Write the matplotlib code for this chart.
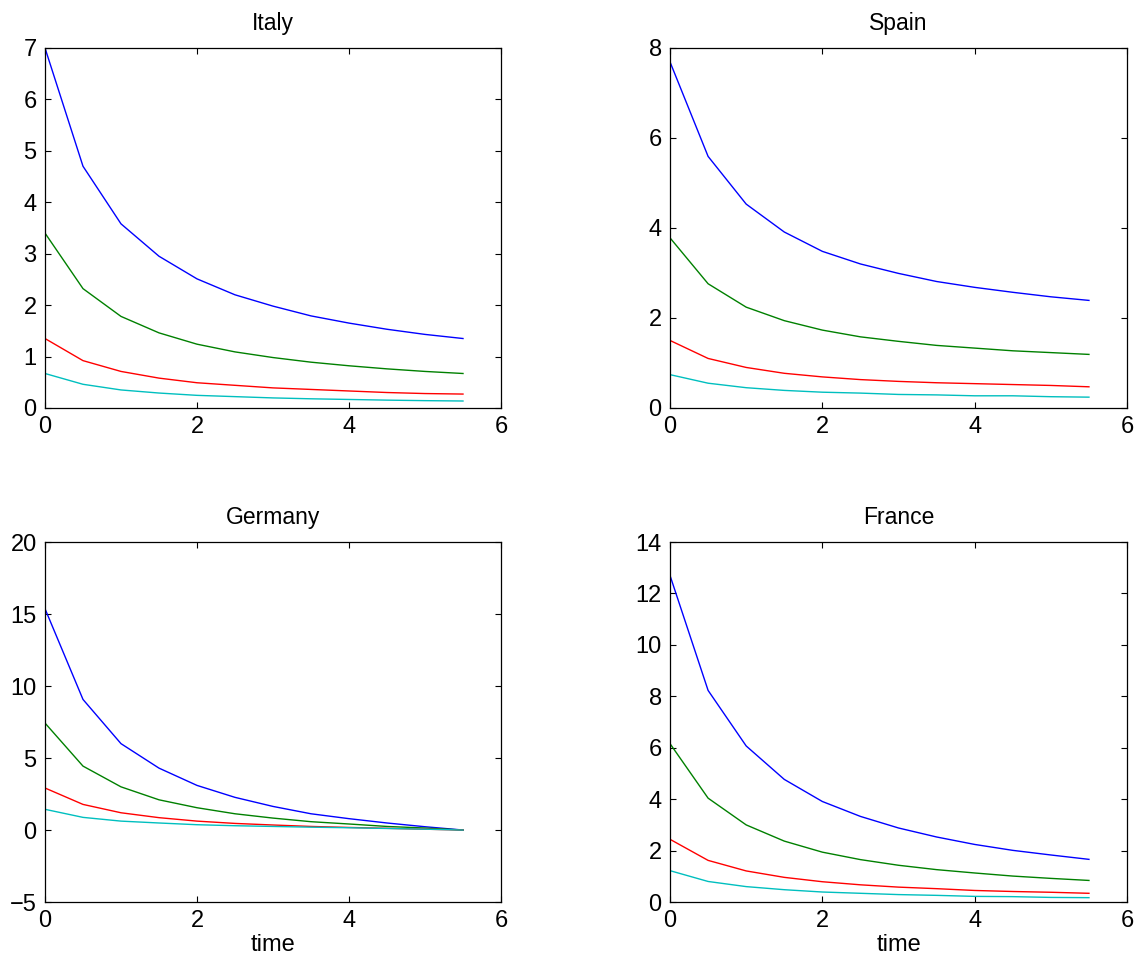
import matplotlib
matplotlib.use('Agg')
import matplotlib.pyplot as plt

plt.rcParams['font.family'] = ['Liberation Sans', 'DejaVu Sans']

time = [0, 0.5, 1, 1.5, 2, 2.5, 3, 3.5, 4, 4.5, 5, 5.5]

italy_1 = [7.0, 4.70, 3.58, 2.95, 2.51, 2.20, 1.98, 1.79, 1.65, 1.53, 1.43, 1.35]
italy_2 = [3.4, 2.32, 1.78, 1.46, 1.24, 1.09, 0.98, 0.89, 0.82, 0.76, 0.71, 0.67]
italy_3 = [1.35, 0.92, 0.71, 0.58, 0.49, 0.44, 0.39, 0.36, 0.33, 0.30, 0.28, 0.27]
italy_4 = [0.67, 0.46, 0.35, 0.29, 0.245, 0.22, 0.195, 0.178, 0.165, 0.152, 0.142, 0.135]

spain_1 = [7.69, 5.59, 4.53, 3.91, 3.48, 3.20, 2.99, 2.81, 2.68, 2.57, 2.47, 2.39]
spain_2 = [3.78, 2.76, 2.24, 1.94, 1.73, 1.58, 1.48, 1.39, 1.33, 1.27, 1.23, 1.19]
spain_3 = [1.50, 1.10, 0.90, 0.77, 0.69, 0.63, 0.59, 0.56, 0.54, 0.52, 0.50, 0.47]
spain_4 = [0.74, 0.55, 0.45, 0.39, 0.35, 0.33, 0.30, 0.29, 0.27, 0.27, 0.25, 0.24]

germany_1 = [15.37, 9.07, 6.0, 4.3, 3.1, 2.27, 1.64, 1.13, 0.79, 0.49, 0.23, 0.0]
germany_2 = [7.43, 4.44, 3.0, 2.1, 1.55, 1.13, 0.83, 0.58, 0.42, 0.25, 0.14, 0.0]
germany_3 = [2.92, 1.78, 1.2, 0.86, 0.62, 0.46, 0.35, 0.25, 0.18, 0.12, 0.06, 0.0]
germany_4 = [1.44, 0.88, 0.62, 0.49, 0.37, 0.30, 0.25, 0.20, 0.16, 0.11, 0.06, 0.0]

france_1 = [12.7, 8.23, 6.07, 4.77, 3.91, 3.33, 2.88, 2.53, 2.24, 2.01, 1.83, 1.66]
france_2 = [6.16, 4.04, 3.0, 2.37, 1.94, 1.65, 1.43, 1.26, 1.13, 1.01, 0.92, 0.84]
france_3 = [2.44, 1.62, 1.21, 0.96, 0.79, 0.67, 0.58, 0.52, 0.45, 0.41, 0.38, 0.34]
france_4 = [1.22, 0.80, 0.60, 0.48, 0.39, 0.34, 0.29, 0.26, 0.22, 0.21, 0.18, 0.17]

colors = [(0, 0, 1), (0, 0.5, 0), (1, 0, 0), (0, 0.75, 0.75)]

panels = [
    ('Italy', [italy_1, italy_2, italy_3, italy_4], (0, 7), range(0, 8, 1), False),
    ('Spain', [spain_1, spain_2, spain_3, spain_4], (0, 8), range(0, 9, 2), False),
    ('Germany', [germany_1, germany_2, germany_3, germany_4], (-5, 20), range(-5, 21, 5), True),
    ('France', [france_1, france_2, france_3, france_4], (0, 14), range(0, 15, 2), True),
]

# axes boxes (left, bottom, width, height)
boxes = [
    [0.0394, 0.579, 0.3993, 0.3715],
    [0.5867, 0.579, 0.4002, 0.3715],
    [0.0394, 0.0691, 0.3993, 0.3715],
    [0.5867, 0.0691, 0.4002, 0.3715],
]

fig = plt.figure(figsize=(11.42, 9.69), dpi=100)

for (name, series, ylim, yticks, xlab), box in zip(panels, boxes):
    ax = fig.add_axes(box)
    for s, c in zip(series, colors):
        ax.plot(time, s, color=c, linewidth=1.0)
    ax.set_xlim(0, 6)
    ax.set_ylim(*ylim)
    ax.set_xticks([0, 2, 4, 6])
    ax.set_yticks(list(yticks))
    ax.tick_params(direction='in', top=True, right=True, length=4, width=0.8,
                   labelsize=17, pad=6)
    for sp in ax.spines.values():
        sp.set_linewidth(0.9)
    ax.set_title(name, fontsize=16.5, pad=13)
    if xlab:
        ax.set_xlabel('time', fontsize=17, labelpad=1)

fig.savefig('out.png', dpi=100)
